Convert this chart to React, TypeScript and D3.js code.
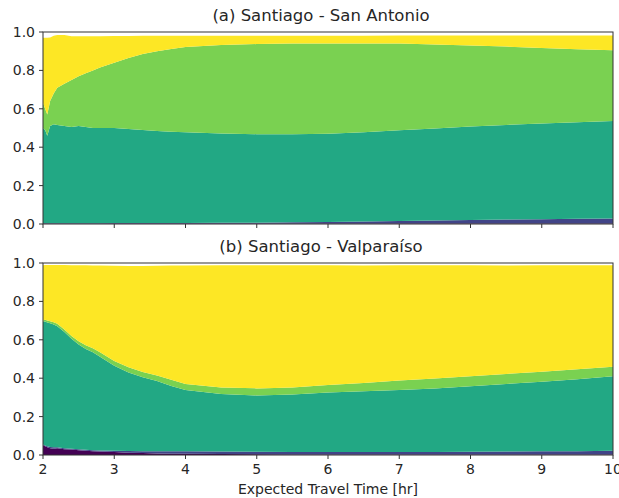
import React from 'react';
import * as d3 from 'd3';

// expected travel time samples (hr)
const travelTime = [2, 2.03, 2.06, 2.1, 2.15, 2.2, 2.3, 2.4, 2.5, 2.6, 2.7, 2.8, 3, 3.2, 3.4, 3.6, 3.8, 4, 4.5, 5, 5.5, 6, 6.5, 7, 7.5, 8, 8.5, 9, 9.5, 10];

// cumulative upper edge of each layer
const saPurple = travelTime.map(() => 0.002);
const saBlue = [0.004, 0.004, 0.004, 0.004, 0.004, 0.004, 0.004, 0.004, 0.004, 0.004, 0.004, 0.004, 0.005, 0.005, 0.005, 0.005, 0.005, 0.005, 0.006, 0.007, 0.009, 0.011, 0.013, 0.015, 0.018, 0.021, 0.023, 0.025, 0.027, 0.029];
const saTeal = [0.5, 0.49, 0.46, 0.51, 0.52, 0.515, 0.51, 0.505, 0.51, 0.505, 0.5, 0.5, 0.5, 0.495, 0.49, 0.485, 0.48, 0.478, 0.472, 0.468, 0.468, 0.47, 0.478, 0.488, 0.498, 0.508, 0.516, 0.524, 0.53, 0.537];
const saGreen = [0.63, 0.6, 0.57, 0.64, 0.68, 0.71, 0.73, 0.75, 0.77, 0.785, 0.8, 0.815, 0.84, 0.865, 0.885, 0.9, 0.912, 0.922, 0.932, 0.937, 0.94, 0.94, 0.94, 0.94, 0.935, 0.93, 0.924, 0.917, 0.91, 0.905];
const saYellow = [0.97, 0.97, 0.97, 0.972, 0.98, 0.985, 0.985, 0.978, 0.978, 0.978, 0.978, 0.978, 0.979, 0.979, 0.98, 0.98, 0.98, 0.98, 0.98, 0.981, 0.981, 0.981, 0.981, 0.982, 0.982, 0.982, 0.982, 0.982, 0.982, 0.982];

const vaPurple = [0.05, 0.045, 0.04, 0.035, 0.033, 0.035, 0.03, 0.028, 0.025, 0.022, 0.02, 0.018, 0.015, 0.012, 0.01, 0.008, 0.007, 0.006, 0.005, 0.004, 0.003, 0.003, 0.003, 0.003, 0.003, 0.003, 0.003, 0.003, 0.003, 0.003];
const vaBlue = [0.055, 0.05, 0.045, 0.042, 0.04, 0.04, 0.035, 0.032, 0.03, 0.027, 0.025, 0.023, 0.022, 0.021, 0.02, 0.02, 0.019, 0.019, 0.018, 0.017, 0.016, 0.016, 0.016, 0.016, 0.016, 0.017, 0.018, 0.019, 0.02, 0.022];
const vaTeal = [0.695, 0.695, 0.69, 0.686, 0.68, 0.67, 0.64, 0.605, 0.575, 0.552, 0.535, 0.512, 0.465, 0.43, 0.405, 0.385, 0.36, 0.338, 0.318, 0.31, 0.315, 0.325, 0.332, 0.338, 0.346, 0.358, 0.37, 0.382, 0.395, 0.41];
const vaGreen = [0.7, 0.705, 0.7, 0.697, 0.692, 0.683, 0.653, 0.62, 0.593, 0.572, 0.556, 0.535, 0.489, 0.457, 0.432, 0.414, 0.392, 0.37, 0.352, 0.347, 0.352, 0.365, 0.375, 0.388, 0.398, 0.41, 0.422, 0.434, 0.446, 0.46];
const vaYellow = [0.988, 0.99, 0.99, 0.99, 0.99, 0.99, 0.99, 0.988, 0.988, 0.988, 0.987, 0.987, 0.986, 0.985, 0.985, 0.986, 0.987, 0.987, 0.988, 0.988, 0.988, 0.988, 0.987, 0.988, 0.988, 0.988, 0.987, 0.988, 0.988, 0.988];

const layerColors = ['#440154', '#414487', '#22a884', '#7ad151', '#fde725'];
const xTicks = [2, 3, 4, 5, 6, 7, 8, 9, 10];
const yTicks = [0, 0.2, 0.4, 0.6, 0.8, 1.0];

const panels = [
  { title: '(a) Santiago - San Antonio', top: 32, layers: [saPurple, saBlue, saTeal, saGreen, saYellow], showX: false },
  { title: '(b) Santiago - Valparaíso', top: 263, layers: [vaPurple, vaBlue, vaTeal, vaGreen, vaYellow], showX: true },
];

const W = 619;
const H = 498;
const left = 43;
const right = 613;
const panelH = 192;
const font = 'DejaVu Sans, sans-serif';
const ink = '#262626';

const x = d3.scaleLinear().domain([2, 10]).range([left, right]);

function Panel({ title, top, layers, showX }: { title: string; top: number; layers: number[][]; showX: boolean }) {
  const y = d3.scaleLinear().domain([0, 1]).range([top + panelH, top]);
  const areas = layers.map((upper, k) => {
    const lower = k === 0 ? travelTime.map(() => 0) : layers[k - 1];
    const gen = d3
      .area<number>()
      .x((_, i) => x(travelTime[i]))
      .y0((_, i) => y(lower[i]))
      .y1((_, i) => y(upper[i]));
    return gen(travelTime) || '';
  });
  return (
    <g>
      <text x={321} y={top - 11} textAnchor="middle" fontSize={16.5} fontFamily={font} fill={ink}>
        {title}
      </text>
      {areas.map((d, k) => (
        <path key={k} d={d} fill={layerColors[k]} />
      ))}
      <rect x={left} y={top} width={right - left} height={panelH} fill="none" stroke="#333" strokeWidth={1} />
      {yTicks.map((t) => (
        <g key={t}>
          <line x1={left - 4} x2={left} y1={y(t)} y2={y(t)} stroke="#333" />
          <text x={left - 8} y={y(t)} dy="0.35em" textAnchor="end" fontSize={14} fontFamily={font} fill={ink}>
            {t.toFixed(1)}
          </text>
        </g>
      ))}
      {xTicks.map((t) => (
        <g key={t}>
          <line x1={x(t)} x2={x(t)} y1={top + panelH} y2={top + panelH + 4} stroke="#333" />
          {showX && (
            <text x={x(t)} y={top + panelH + 19} textAnchor="middle" fontSize={14} fontFamily={font} fill={ink}>
              {t}
            </text>
          )}
        </g>
      ))}
    </g>
  );
}

export default function App() {
  return (
    <svg width={W} height={H} style={{ position: 'absolute', left: 0, top: 0, background: '#fff' }}>
      {panels.map((p) => (
        <Panel key={p.title} {...p} />
      ))}
      <text x={(left + right) / 2} y={494} textAnchor="middle" fontSize={14} fontFamily={font} fill={ink}>
        Expected Travel Time [hr]
      </text>
    </svg>
  );
}
